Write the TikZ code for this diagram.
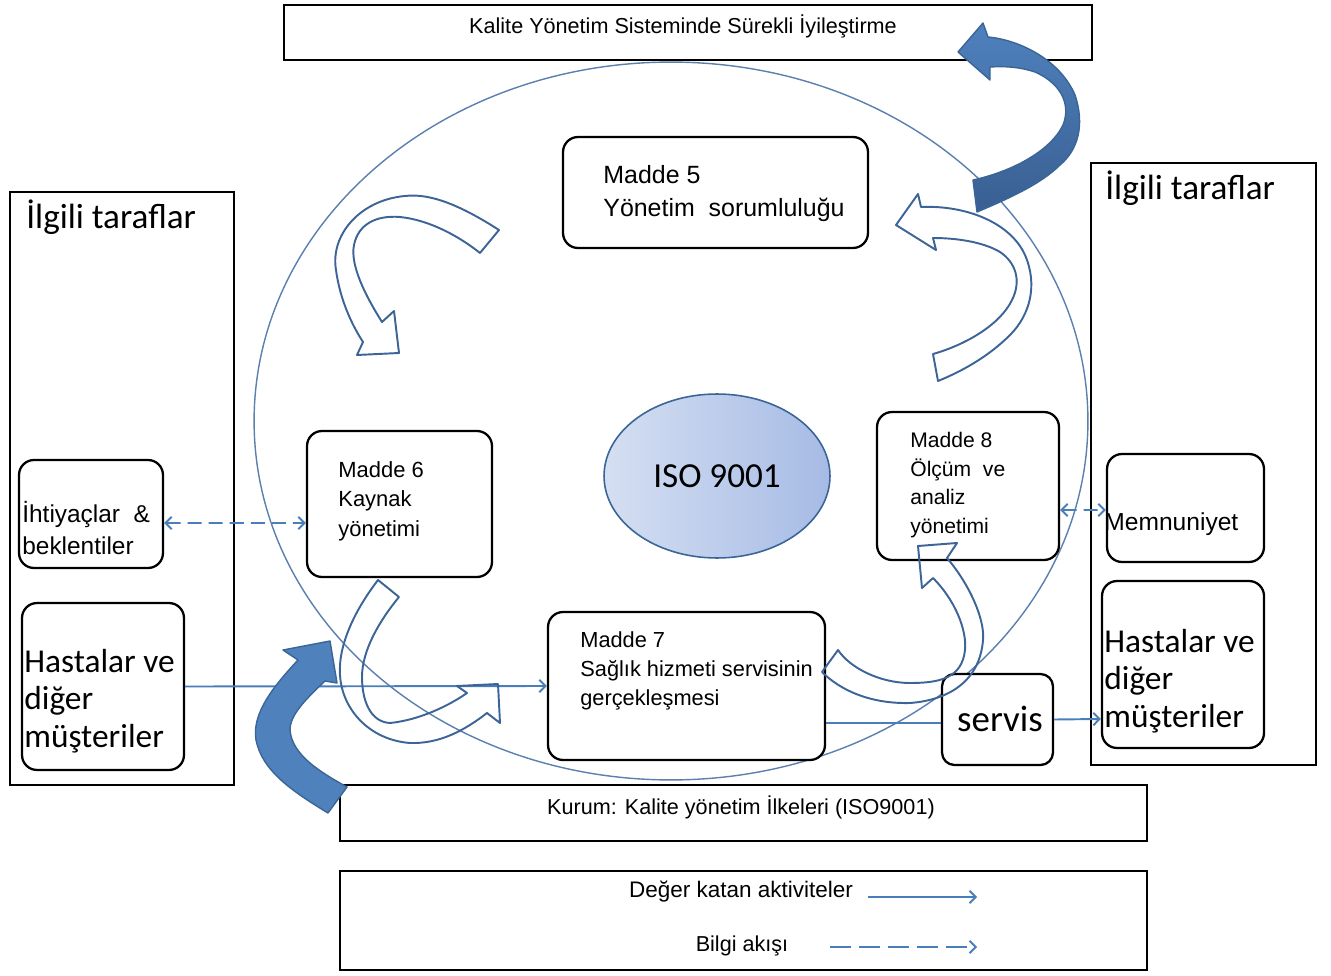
\documentclass[tikz,border=0pt]{standalone}
\usepackage{fontspec}
\setmainfont{Liberation Sans}
\newfontfamily\calib{Carlito}
\usetikzlibrary{arrows.meta,shapes.geometric}
\definecolor{lineblue}{HTML}{4A7EBB}
\definecolor{ringblue}{HTML}{5B7FAE}
\definecolor{hollowblue}{HTML}{3C6496}
\definecolor{fillblue}{HTML}{4F81BD}
\definecolor{edgeblue}{HTML}{3A6596}
\definecolor{deepblue}{HTML}{395F92}
\definecolor{isolight}{HTML}{D5DFF2}
\definecolor{isodark}{HTML}{A6BBE5}
\tikzset{
  sqbox/.style={draw, line width=1.5pt, fill=white, inner sep=0pt},
  rbox/.style={draw, line width=1.3pt, fill=white, rounded corners=0.3cm, inner sep=0pt},
  lbl/.style={inner sep=0pt, align=left},
  valueflow/.style={draw=lineblue, line width=1.1pt, -{Straight Barb[length=3.5pt,width=7pt]}},
  infoflow/.style={draw=lineblue, line width=1.1pt, dash pattern=on 8pt off 4pt,
    {Straight Barb[length=3.5pt,width=7pt]}-{Straight Barb[length=3.5pt,width=7pt]}},
  hollowarrow/.style={draw=hollowblue, line width=1.1pt, line join=round},
  bigarrow/.style={draw=edgeblue, line width=0.8pt, line join=round}
}
\begin{document}
\begin{tikzpicture}[x=0.02cm, y=-0.02cm]
\useasboundingbox (0,0) rectangle (1331,976);
\draw[ringblue, line width=0.8pt] (671,421) ellipse [x radius=8.34cm, y radius=7.18cm];

\node[sqbox, minimum width=16.16cm, minimum height=1.1cm] (topbox) at (688,32.5) {};
\node[sqbox, minimum width=4.48cm, minimum height=11.86cm] (leftside) at (122,488.5) {};
\node[sqbox, minimum width=4.5cm, minimum height=12.04cm] (rightside) at (1203.5,464) {};
\node[sqbox, minimum width=16.14cm, minimum height=1.12cm] (kurum) at (743.5,813) {};
\node[sqbox, minimum width=16.14cm, minimum height=1.98cm] (legend) at (743.5,920.5) {};

\node[rbox, minimum width=6.1cm, minimum height=2.22cm] (madde5) at (715.5,192.5) {};
\node[rbox, minimum width=3.7cm, minimum height=2.92cm] (madde6) at (399.5,504) {};
\node[rbox, minimum width=5.54cm, minimum height=2.96cm] (madde7) at (686.5,686) {};
\node[rbox, minimum width=3.64cm, minimum height=2.96cm] (madde8) at (968,486) {};
\node[rbox, rounded corners=0.25cm, minimum width=2.22cm, minimum height=1.82cm] (servis) at (997.5,719.5) {};
\node[rbox, minimum width=2.88cm, minimum height=2.16cm] (ihtiyac) at (91,514) {};
\node[rbox, minimum width=3.24cm, minimum height=3.34cm] (hastaL) at (103,686.5) {};
\node[rbox, minimum width=3.14cm, minimum height=2.16cm] (memnun) at (1185.5,508) {};
\node[rbox, minimum width=3.24cm, minimum height=3.34cm] (hastaR) at (1183,664.5) {};
\node[ellipse, draw=edgeblue, line width=0.9pt, left color=isolight, right color=isodark,
  minimum width=4.52cm, minimum height=3.28cm, inner sep=0pt, font=\calib\fontsize{20}{24}\selectfont] (iso) at (717,476) {ISO 9001};

\node[lbl, font=\fontsize{12.3}{15}\selectfont] (toptxt) at (683,26) {Kalite Yönetim Sisteminde Sürekli İyileştirme};
\node[lbl, anchor=west, font=\fontsize{14.2}{18.7}\selectfont] (m5txt) at (603,193.5) {Madde 5\\Yönetim~ sorumluluğu};
\node[lbl, anchor=west, font=\fontsize{12.5}{16.7}\selectfont] (m6txt) at (338,501) {Madde 6\\Kaynak\\yönetimi};
\node[lbl, anchor=west, font=\fontsize{12.4}{16.7}\selectfont] (m7txt) at (580,671) {Madde 7\\Sağlık hizmeti servisinin\\gerçekleşmesi};
\node[lbl, anchor=west, font=\fontsize{12}{16.4}\selectfont] (m8txt) at (910,485) {Madde 8\\Ölçüm~ ve\\analiz\\yönetimi};
\node[lbl, font=\calib\fontsize{21}{24}\selectfont] (servistxt) at (1000,719) {servis};
\node[lbl, anchor=west, font=\calib\fontsize{20}{24}\selectfont] (lefttitle) at (26,217) {İlgili taraflar};
\node[lbl, anchor=west, font=\calib\fontsize{20}{24}\selectfont] (righttitle) at (1105,188) {İlgili taraflar};
\node[lbl, anchor=west, font=\fontsize{13.9}{18.1}\selectfont] (ihtxt) at (22,528) {İhtiyaçlar~ \&\\beklentiler};
\node[lbl, anchor=west, font=\calib\fontsize{19}{21.5}\selectfont] (hastaLtxt) at (24,701) {Hastalar ve\\diğer\\müşteriler};
\node[lbl, anchor=west, font=\fontsize{14}{18}\selectfont] (memtxt) at (1104,524) {Memnuniyet};
\node[lbl, anchor=west, font=\calib\fontsize{19}{21.5}\selectfont] (hastaRtxt) at (1104,681) {Hastalar ve\\diğer\\müşteriler};
\node[lbl, font=\fontsize{12.3}{15}\selectfont] (kurumtxt) at (741,807) {Kurum: Kalite yönetim İlkeleri (ISO9001)};
\node[lbl, font=\fontsize{12.8}{15}\selectfont] (degertxt) at (741,892) {Değer katan aktiviteler};
\node[lbl, font=\fontsize{12.3}{15}\selectfont] (bilgitxt) at (742,946) {Bilgi akışı};

\draw[infoflow] ([yshift=-0.18cm]ihtiyac.east) -- ([yshift=-0.38cm]madde6.west);
\draw[infoflow] ([yshift=-0.48cm]madde8.east) -- ([yshift=-0.04cm]memnun.west);
\draw[valueflow] (hastaL.east) -- (madde7.west);
\draw[lineblue, line width=1.1pt] ([yshift=-0.74cm]madde7.east) -- ([yshift=-0.07cm]servis.west);
\draw[valueflow] (servis.east) -- ([yshift=-1.09cm]hastaR.west);

\coordinate (valA) at (868,897);
\coordinate (valB) at (977,897);
\coordinate (infA) at (830,947);
\coordinate (infB) at (977,947);
\draw[valueflow] (valA) -- (valB);
\draw[valueflow, dash pattern=on 12pt off 4.5pt] (infA) -- (infB);

\filldraw[bigarrow, fill=fillblue] (328,813) .. controls (290,790) and (262,770) .. (256,740) .. controls (252,715) and (270,690) .. (298,660) -- (283,650) -- (330,641) -- (337,683) -- (325,681) .. controls (305,700) and (290,715) .. (290,730) .. controls (292,755) and (320,772) .. (347,787) -- cycle;
\shadedraw[bigarrow, top color=fillblue, bottom color=deepblue] (988,37) .. controls (1020,40) and (1060,60) .. (1075,95) .. controls (1085,125) and (1078,150) .. (1060,165) .. controls (1040,185) and (1005,200) .. (977,212) -- (973,180) .. controls (1010,172) and (1050,152) .. (1063,125) .. controls (1072,102) and (1058,82) .. (1035,72) .. controls (1020,67) and (1005,66) .. (990,67) -- (990,80) -- (958,52) -- (983,23) -- cycle;

\draw[hollowarrow] (499,230) .. controls (460,205) and (430,193) .. (405,196) .. controls (360,200) and (330,235) .. (336,270) .. controls (340,300) and (352,325) .. (363,342) -- (357,355) -- (399,353) -- (394,311) -- (382,322) .. controls (365,295) and (350,265) .. (354,245) .. controls (358,225) and (375,215) .. (400,217) .. controls (430,220) and (460,237) .. (480,253) -- cycle;
\draw[hollowarrow] (921,207) .. controls (965,205) and (1010,222) .. (1025,255) .. controls (1038,285) and (1030,315) .. (1010,335) .. controls (990,355) and (965,370) .. (938,381) -- (933,354) .. controls (965,345) and (1000,325) .. (1012,300) .. controls (1022,280) and (1015,262) .. (1000,252) .. controls (985,243) and (960,238) .. (933,238) -- (936,250) -- (896,225) -- (918,194) -- cycle;
\draw[hollowarrow] (378,580) .. controls (355,610) and (338,645) .. (340,675) .. controls (342,710) and (370,740) .. (410,743) .. controls (440,744) and (465,730) .. (487,713) -- (500,723) -- (498,684) -- (457,686) -- (467,693) .. controls (450,705) and (420,720) .. (390,723) .. controls (370,722) and (362,700) .. (362,677) .. controls (362,650) and (380,620) .. (399,597) -- cycle;
\draw[hollowarrow] (838,650) .. controls (850,668) and (880,683) .. (910,683) .. controls (940,683) and (962,678) .. (965,650) .. controls (967,630) and (955,600) .. (933,578) -- (922,588) -- (918,546) -- (957,543) -- (947,558) .. controls (970,585) and (985,620) .. (983,640) .. controls (980,680) and (950,700) .. (910,703) .. controls (870,704) and (840,690) .. (822,672) -- cycle;
\end{tikzpicture}
\end{document}
